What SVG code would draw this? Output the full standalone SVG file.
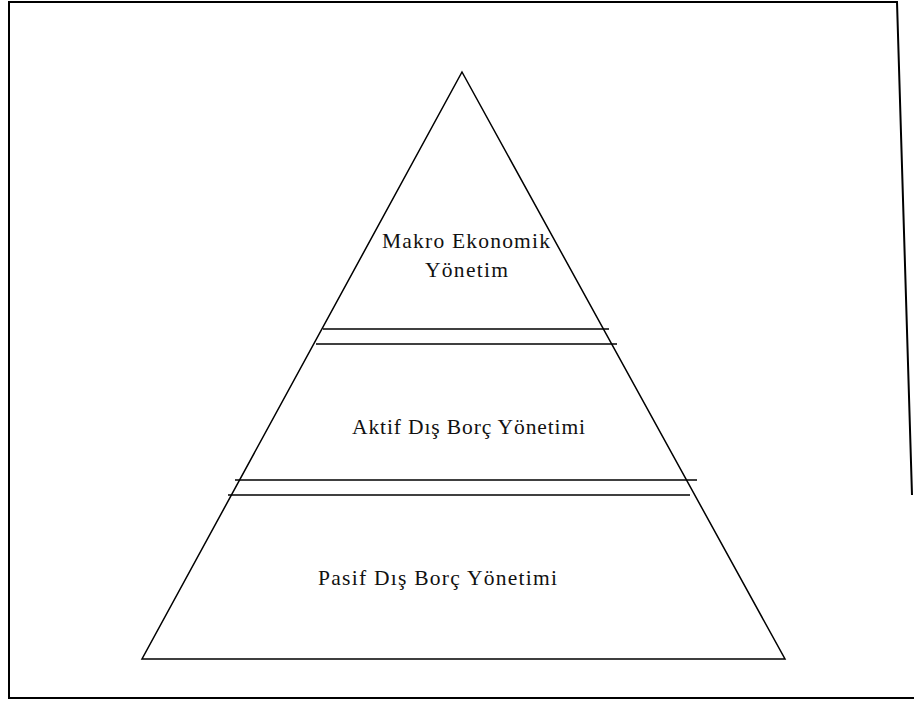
<svg xmlns="http://www.w3.org/2000/svg" width="914" height="704" viewBox="0 0 914 704">
<style>
.ln{stroke:#000;stroke-width:1.5;fill:none}
.fr{stroke:#000;stroke-width:2;fill:none}
.t{font-family:"Liberation Serif","Times New Roman",serif;font-size:21.5px;fill:#111}
</style>
<rect width="914" height="704" fill="#fff"/>
<g id="frame">
<polyline class="fr" points="912,495 897,2 9,2 9,698 914,698"/>
</g>
<g id="pyramid">
<polygon class="ln" points="462,72 785,659 142,659"/>
</g>
<g id="connectors">
<line class="ln" x1="323" y1="329" x2="609" y2="329"/>
<line class="ln" x1="316" y1="344" x2="617" y2="344"/>
<line class="ln" x1="235" y1="480" x2="697" y2="480"/>
<line class="ln" x1="228" y1="495" x2="690" y2="495"/>
</g>
<g id="top">
<text class="t" x="382" y="248" textLength="168" lengthAdjust="spacing">Makro Ekonomik</text>
<text class="t" x="425" y="277" textLength="83" lengthAdjust="spacing">Yönetim</text>
</g>
<g id="middle">
<text class="t" x="352" y="434" textLength="233" lengthAdjust="spacing">Aktif Dış Borç  Yönetimi</text>
</g>
<g id="bottom">
<text class="t" x="318" y="585" textLength="239" lengthAdjust="spacing">Pasif Dış Borç Yönetimi</text>
</g>
</svg>
